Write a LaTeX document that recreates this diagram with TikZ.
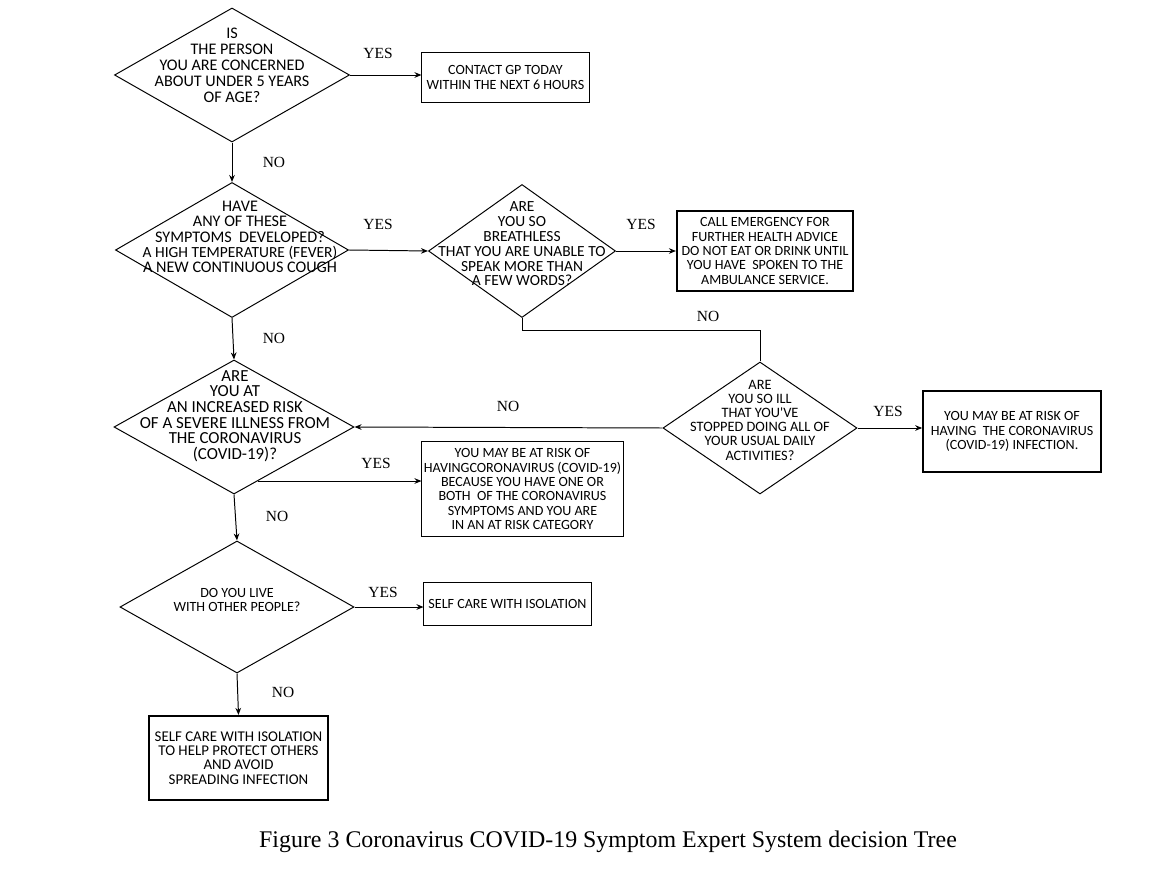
\documentclass[tikz,border=0pt]{standalone}
\usepackage{fontspec}
\setmainfont{Liberation Serif}
\newfontfamily\chartfont{Carlito}
\usetikzlibrary{arrows.meta,shapes.geometric,calc}

\tikzset{
  decision/.style={draw, diamond, inner sep=0pt, line width=0.7pt},
  qtext/.style={align=center, inner sep=0pt, font=\chartfont\fontsize{11}{10.5}\selectfont},
  outcome/.style={draw, rectangle, align=center, inner sep=0pt, line width=0.7pt,
    font=\chartfont\fontsize{10}{10.2}\selectfont},
  urgent/.style={outcome, line width=1.5pt},
  answer/.style={inner sep=0pt, font=\fontsize{11}{11}\selectfont},
  flow/.style={line width=0.7pt, -{Stealth[length=5pt, width=4pt]}},
  link/.style={line width=0.7pt}
}

\begin{document}
\begin{tikzpicture}[x=0.025cm, y=-0.025cm]
  \useasboundingbox (0,0) rectangle (1164,873);

  % -- the questions, one diamond each, text set a little above the middle
  \node[decision, minimum width=5.875cm, minimum height=3.35cm] (q1) at (232,75) {};
  \node[qtext, font=\chartfont\fontsize{11.5}{11.4}\selectfont] (q1t) at (232,65)
    {IS\\THE PERSON\\YOU ARE CONCERNED\\ABOUT UNDER 5 YEARS\\OF AGE?};
  \node[decision, minimum width=5.825cm, minimum height=3.375cm] (q2) at (232,250) {};
  \node[qtext, font=\chartfont\fontsize{11.5}{10.8}\selectfont] (q2t) at (240,237)
    {HAVE\\ANY OF THESE\\SYMPTOMS\ \ DEVELOPED?\\
     {\fontsize{11}{10.8}\selectfont A HIGH TEMPERATURE (FEVER)}\\A NEW CONTINUOUS COUGH};
  \node[decision, minimum width=4.675cm, minimum height=3.325cm] (q3) at (522,251) {};
  \node[qtext] (q3t) at (522,244)
    {ARE\\YOU SO\\BREATHLESS\\THAT YOU ARE UNABLE TO\\SPEAK MORE THAN\\A FEW WORDS?};
  \node[decision, minimum width=4.85cm, minimum height=3.3cm] (q4) at (760,428) {};
  \node[qtext, font=\chartfont\fontsize{10.2}{10.1}\selectfont] (q4t) at (760,420)
    {ARE\\YOU SO ILL\\THAT YOU'VE\\STOPPED DOING ALL OF\\YOUR USUAL DAILY\\ACTIVITIES?};
  \node[decision, minimum width=6.0cm, minimum height=3.35cm] (q5) at (234,427) {};
  \node[qtext, font=\chartfont\fontsize{12}{11.1}\selectfont] (q5t) at (235,416)
    {ARE\\YOU AT\\AN INCREASED RISK\\OF A SEVERE ILLNESS FROM\\THE CORONAVIRUS\\(COVID-19)?};
  \node[decision, minimum width=5.85cm, minimum height=3.3cm] (q6) at (237,607) {};
  \node[qtext, font=\chartfont\fontsize{10}{10.2}\selectfont] (q6t) at (237,600)
    {DO YOU LIVE\\WITH OTHER PEOPLE?};

  % -- the outcomes
  \node[outcome, minimum width=4.175cm, minimum height=1.225cm] (b1) at (505.5,77.5)
    {CONTACT GP TODAY\\WITHIN THE NEXT 6 HOURS};
  \node[urgent, minimum width=4.4cm, minimum height=2.0cm] (b2) at (765,251)
    {CALL EMERGENCY FOR\\FURTHER HEALTH ADVICE\\DO NOT EAT OR DRINK UNTIL\\YOU HAVE\ \ SPOKEN TO THE\\AMBULANCE SERVICE.};
  \node[outcome, line width=1.1pt, minimum width=4.45cm, minimum height=2.025cm] (b3) at (1012,431.5)
    {YOU MAY BE AT RISK OF\\HAVING\ \ THE CORONAVIRUS\\(COVID-19) INFECTION.};
  \node[outcome, minimum width=5.025cm, minimum height=2.35cm] (b4) at (522.5,489)
    {YOU MAY BE AT RISK OF\\HAVINGCORONAVIRUS (COVID-19)\\BECAUSE YOU HAVE ONE OR\\BOTH\ \ OF THE CORONAVIRUS\\SYMPTOMS AND YOU ARE\\IN AN AT RISK CATEGORY};
  \node[outcome, minimum width=4.175cm, minimum height=1.075cm] (b5) at (507.5,603.5)
    {SELF CARE WITH ISOLATION};
  \node[urgent, minimum width=4.475cm, minimum height=2.1cm,
    font=\chartfont\fontsize{10.6}{10.2}\selectfont] (b6) at (238.5,758)
    {SELF CARE WITH ISOLATION\\TO HELP PROTECT OTHERS\\AND AVOID\\SPREADING INFECTION};

  % -- connectors
  \draw[flow] (q1.east) -- (q1.east -| b1.west);
  \draw[flow] (q1.south) -- (q2.north);
  \draw[flow] (q2.east) -- (q3.west);
  \draw[flow] (q3.east) -- (q3.east -| b2.west);
  \draw[link] (q3.south) -- ++(0,12) -| (q4.north);
  \draw[flow] (q2.south) -- (q5.north);
  \draw[flow] (q4.west) -- (q5.east);
  \draw[flow] (q4.east) -- (q4.east -| b3.west);
  \coordinate (q5yes) at ($(q5.east)!0.8!(q5.south)$);
  \draw[flow] (q5yes) -- (q5yes -| b4.west);
  \draw[flow] (q5.south) -- (q6.north);
  \draw[flow] (q6.east) -- (q6.east -| b5.west);
  \draw[flow] (q6.south) -- (b6.north);

  % -- answers on the connectors
  \node[answer] (a1) at (378,53) {YES};
  \node[answer] (a2) at (274,162) {NO};
  \node[answer] (a3) at (378,224) {YES};
  \node[answer] (a4) at (641,224) {YES};
  \node[answer] (a5) at (708,316) {NO};
  \node[answer] (a6) at (274,338) {NO};
  \node[answer] (a7) at (508,406) {NO};
  \node[answer] (a8) at (888,411) {YES};
  \node[answer] (a9) at (376,463) {YES};
  \node[answer] (a10) at (277,516) {NO};
  \node[answer] (a11) at (383,592) {YES};
  \node[answer] (a12) at (283,692) {NO};

  % caption
  \node[font=\fontsize{17}{17}\selectfont] (cap) at (608,842)
    {Figure 3 Coronavirus COVID-19 Symptom Expert System decision Tree};
\end{tikzpicture}
\end{document}
